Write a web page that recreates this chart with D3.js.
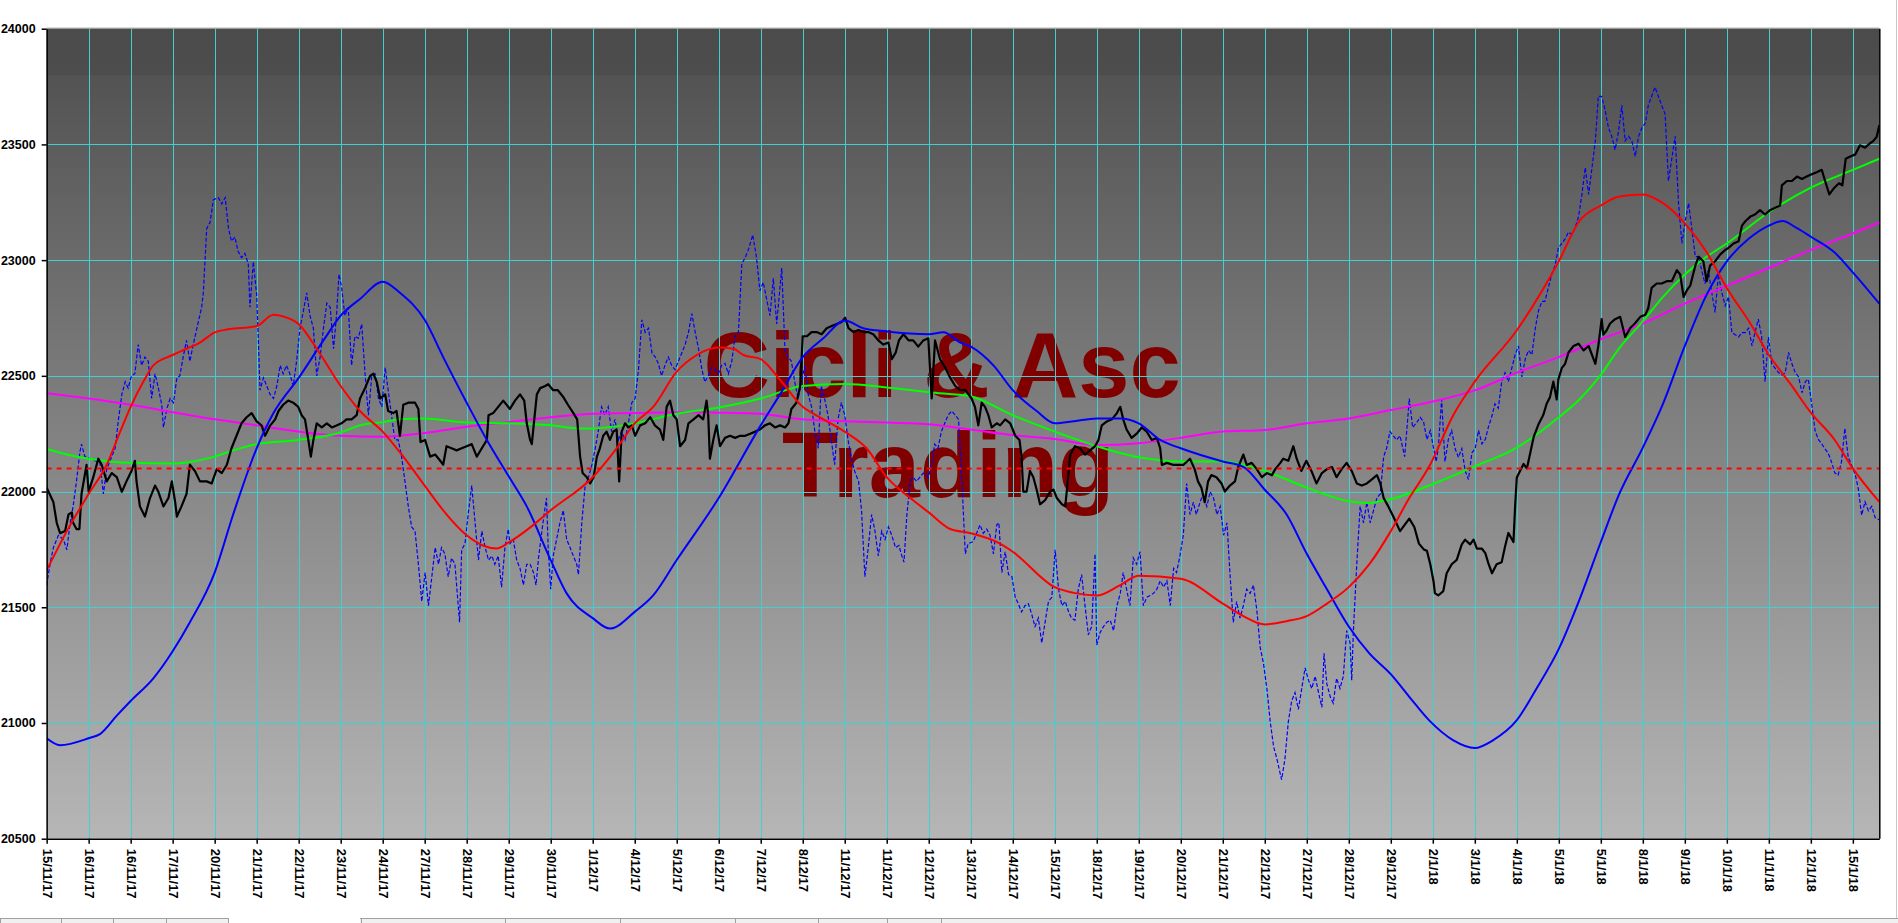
<!DOCTYPE html>
<html><head><meta charset="utf-8">
<script src="https://cdn.jsdelivr.net/npm/d3@7"></script>
<style>html,body{margin:0;padding:0;background:#fff;overflow:hidden}svg{display:block}</style>
</head><body>
<script>
// ---------- data ----------
const tickLabels = ["15/11/17","16/11/17","16/11/17","17/11/17","20/11/17","21/11/17","22/11/17","23/11/17","24/11/17","27/11/17","28/11/17",
"29/11/17","30/11/17","1/12/17","4/12/17","5/12/17","6/12/17","7/12/17","8/12/17","11/12/17","11/12/17","12/12/17","13/12/17",
"14/12/17","15/12/17","18/12/17","19/12/17","20/12/17","21/12/17","22/12/17","27/12/17","28/12/17","29/12/17","2/1/18",
"3/1/18","4/1/18","5/1/18","5/1/18","8/1/18","9/1/18","10/1/18","11/1/18","12/1/18","15/1/18"];
const yTicks = [20500,21000,21500,22000,22500,23000,23500,24000];
const levelLine = 22100;
const watermark = ["Cicli & Asc","Trading"];

// [session position, value]
const price = [[0.00,22017],[0.16,21955],[0.24,21865],[0.32,21820],[0.44,21830],[0.52,21901],[0.60,21910],[0.63,21865],[0.71,21838],[0.78,21838],[0.83,21990],[0.95,22115],[1.00,22000],[1.11,22062],[1.23,22142],[1.31,22116],[1.43,22044],[1.55,22080],[1.67,22062],[1.79,21999],[1.90,22044],[2.02,22089],[2.10,22133],[2.14,22044],[2.22,21936],[2.34,21892],[2.46,21972],[2.58,22026],[2.66,21999],[2.78,21936],[2.90,21972],[2.98,22044],[3.06,21954],[3.10,21892],[3.21,21936],[3.33,21990],[3.41,22116],[3.53,22089],[3.65,22044],[3.81,22044],[3.93,22035],[4.05,22097],[4.17,22080],[4.29,22116],[4.40,22187],[4.52,22241],[4.64,22295],[4.76,22321],[4.88,22339],[5.00,22303],[5.12,22285],[5.20,22241],[5.32,22285],[5.44,22312],[5.52,22348],[5.63,22375],[5.75,22393],[5.87,22384],[5.99,22366],[6.07,22330],[6.15,22312],[6.23,22223],[6.29,22151],[6.35,22223],[6.43,22295],[6.55,22277],[6.67,22295],[6.79,22277],[6.90,22285],[7.02,22295],[7.14,22312],[7.26,22312],[7.38,22330],[7.46,22402],[7.58,22447],[7.70,22500],[7.78,22509],[7.86,22473],[7.94,22402],[8.06,22420],[8.13,22348],[8.25,22339],[8.33,22348],[8.41,22241],[8.49,22375],[8.61,22384],[8.77,22384],[8.85,22357],[8.90,22214],[9.01,22223],[9.13,22151],[9.25,22160],[9.37,22133],[9.44,22116],[9.52,22196],[9.64,22187],[9.76,22178],[9.88,22187],[10.00,22196],[10.12,22205],[10.24,22151],[10.36,22187],[10.48,22223],[10.52,22330],[10.63,22339],[10.75,22366],[10.87,22393],
[11.03,22357],[11.15,22393],[11.27,22420],[11.37,22393],[11.43,22295],[11.51,22223],[11.55,22205],[11.59,22277],[11.67,22420],[11.75,22447],[11.87,22456],[11.94,22464],[12.06,22438],[12.17,22438],[12.29,22411],[12.41,22375],[12.54,22339],[12.63,22312],[12.70,22151],[12.76,22080],[12.86,22062],[12.94,22035],[13.02,22062],[13.10,22151],[13.17,22187],[13.25,22241],[13.33,22259],[13.41,22223],[13.49,22259],[13.57,22268],[13.63,22044],[13.69,22259],[13.77,22295],[13.85,22277],[13.93,22286],[14.01,22241],[14.13,22286],[14.25,22295],[14.37,22321],[14.48,22286],[14.60,22268],[14.68,22223],[14.76,22366],[14.84,22393],[14.92,22330],[15.00,22312],[15.08,22196],[15.20,22223],[15.28,22295],[15.40,22312],[15.52,22330],[15.63,22312],[15.71,22393],[15.75,22330],[15.79,22142],[15.87,22223],[15.95,22286],[16.03,22196],[16.15,22232],[16.27,22241],[16.39,22232],[16.51,22241],[16.63,22241],[16.75,22250],[16.87,22259],[16.98,22268],[17.10,22286],[17.22,22295],[17.34,22277],[17.46,22286],[17.58,22277],[17.66,22295],[17.73,22357],[17.85,22384],[17.94,22456],[18.00,22671],[18.10,22671],[18.21,22689],[18.33,22689],[18.45,22680],[18.57,22706],[18.69,22715],[18.81,22724],[18.93,22733],[19.01,22751],[19.09,22706],[19.21,22689],[19.33,22698],[19.44,22689],[19.56,22689],[19.68,22680],[19.80,22653],[19.92,22635],[20.04,22644],[20.12,22572],[20.21,22599],[20.29,22653],[20.40,22680],[20.52,22653],[20.63,22653],[20.75,22626],[20.87,22653],[20.99,22662],[21.07,22402],[21.15,22653],[21.27,22572],[21.39,22536],[21.51,22492],[21.63,22456],[21.75,22438],[21.87,22438],
[22.02,22402],[22.10,22366],[22.18,22286],[22.26,22384],[22.34,22366],[22.42,22330],[22.50,22277],[22.62,22295],[22.70,22286],[22.82,22312],[22.94,22295],[23.06,22241],[23.16,22223],[23.21,22151],[23.25,22000],[23.33,22000],[23.41,22089],[23.49,22062],[23.57,22008],[23.65,21945],[23.77,21963],[23.89,21999],[23.97,22008],[24.05,21972],[24.17,21945],[24.25,21936],[24.29,22008],[24.37,22160],[24.48,22196],[24.60,22187],[24.72,22160],[24.84,22178],[24.96,22196],[25.04,22223],[25.12,22286],[25.24,22303],[25.36,22312],[25.48,22339],[25.56,22366],[25.63,22312],[25.71,22268],[25.83,22232],[25.95,22250],[26.07,22277],[26.19,22259],[26.31,22223],[26.43,22232],[26.51,22187],[26.55,22115],[26.67,22124],[26.83,22115],[26.94,22115],[27.06,22115],[27.22,22142],[27.33,22097],[27.41,22044],[27.49,22017],[27.57,21954],[27.65,22044],[27.73,22071],[27.85,22062],[27.97,22035],[28.05,22000],[28.17,22026],[28.29,22044],[28.37,22107],[28.49,22160],[28.57,22115],[28.69,22124],[28.81,22097],[28.93,22062],[29.05,22080],[29.17,22071],[29.25,22097],[29.37,22124],[29.44,22142],[29.56,22133],[29.68,22196],[29.76,22142],[29.87,22089],[29.99,22133],[30.11,22089],[30.23,22035],[30.36,22080],[30.48,22097],[30.60,22106],[30.71,22062],[30.83,22097],[30.95,22124],[31.07,22089],[31.19,22035],[31.31,22026],[31.43,22035],[31.55,22053],[31.67,22071],[31.75,22035],[31.83,21972],[31.94,21936],[32.06,21892],[32.22,21829],[32.33,21856],[32.44,21883],[32.56,21847],[32.67,21775],[32.79,21749],
[32.86,21744],[32.94,21686],[33.02,21609],[33.05,21561],[33.13,21551],[33.25,21570],[33.33,21647],[33.45,21686],[33.57,21705],[33.69,21772],[33.77,21792],[33.89,21772],[33.97,21792],[34.05,21753],[34.17,21753],[34.25,21734],[34.33,21686],[34.41,21647],[34.52,21686],[34.64,21695],[34.72,21763],[34.80,21821],[34.92,21782],[34.96,21936],[35.00,22061],[35.08,22090],[35.16,22119],[35.24,22100],[35.32,22167],[35.40,22235],[35.52,22292],[35.63,22331],[35.71,22379],[35.79,22408],[35.87,22475],[35.95,22398],[35.99,22485],[36.07,22533],[36.15,22552],[36.23,22601],[36.35,22629],[36.47,22639],[36.59,22610],[36.71,22629],[36.79,22591],[36.87,22552],[36.94,22629],[37.02,22745],[37.06,22678],[37.14,22697],[37.22,22726],[37.34,22745],[37.46,22755],[37.58,22668],[37.70,22707],[37.81,22726],[37.94,22755],[38.06,22764],[38.13,22793],[38.21,22880],[38.33,22899],[38.45,22899],[38.57,22909],[38.69,22909],[38.81,22957],[38.89,22938],[38.97,22841],[39.05,22870],[39.13,22890],[39.25,22976],[39.33,23015],[39.44,22995],[39.52,22909],[39.60,22976],[39.72,22995],[39.84,23024],[39.96,23044],[40.04,23053],[40.16,23072],[40.28,23082],[40.36,23149],[40.44,23168],[40.56,23188],[40.67,23197],[40.79,23216],[40.91,23197],[41.03,23216],[41.15,23226],[41.27,23236],[41.31,23323],[41.43,23342],[41.55,23342],[41.67,23361],[41.79,23351],[41.90,23361],[42.02,23371],[42.14,23380],[42.26,23390],[42.34,23342],[42.44,23284],[42.56,23313],[42.67,23332],[42.75,23323],[42.83,23438],[42.94,23448],[43.06,23457],[43.17,23496],[43.29,23486],[43.41,23505],[43.49,23515],[43.57,23534],[43.63,23583]];

const oscillator = [[0.00,21596],[0.08,21686],[0.16,21758],[0.28,21811],[0.40,21793],[0.48,21748],[0.56,21865],[0.63,21936],[0.71,22044],[0.79,22169],[0.83,22205],[0.91,22151],[1.03,22142],[1.15,22133],[1.27,22124],[1.35,21990],[1.43,22097],[1.51,22133],[1.63,22187],[1.71,22312],[1.79,22420],[1.87,22474],[1.94,22447],[2.02,22500],[2.10,22509],[2.18,22635],[2.26,22545],[2.34,22581],[2.42,22563],[2.50,22402],[2.58,22509],[2.66,22447],[2.74,22375],[2.78,22277],[2.86,22357],[2.94,22402],[3.02,22384],[3.10,22491],[3.17,22500],[3.25,22581],[3.33,22653],[3.41,22563],[3.49,22635],[3.61,22733],[3.69,22796],[3.73,22859],[3.81,23136],[3.89,23163],[3.97,23261],[4.09,23270],[4.17,23243],[4.25,23270],[4.33,23136],[4.40,23082],[4.48,23100],[4.56,23037],[4.64,23011],[4.72,23029],[4.80,22984],[4.84,22796],[4.92,22993],[5.00,22850],[5.04,22653],[5.08,22438],[5.16,22491],[5.24,22456],[5.32,22420],[5.40,22402],[5.48,22456],[5.56,22545],[5.63,22509],[5.71,22545],[5.79,22509],[5.87,22456],[5.95,22563],[6.03,22706],[6.11,22778],[6.19,22859],[6.27,22760],[6.35,22706],[6.43,22500],[6.51,22581],[6.59,22706],[6.67,22814],[6.75,22796],[6.83,22617],[6.90,22760],[6.96,22939],[7.02,22885],[7.10,22760],[7.18,22796],[7.26,22545],[7.34,22671],[7.42,22662],[7.50,22724],[7.58,22509],[7.66,22330],[7.74,22500],[7.82,22509],[7.90,22402],[7.98,22366],[8.06,22536],[8.13,22438],[8.21,22330],[8.29,22223],[8.37,22223],[8.45,22151],[8.53,22044],[8.61,21936],[8.69,21847],[8.77,21829],[8.85,21686],[8.93,21525],[9.01,21650],[9.09,21507],[9.17,21632],[9.25,21758],[9.33,21686],[9.40,21758],[9.48,21731],[9.56,21632],[9.64,21713],[9.72,21686],[9.83,21435],[9.88,21748],[9.96,21775],[10.04,21910],[10.12,22026],[10.20,21865],[10.28,21704],[10.36,21829],[10.44,21758],[10.52,21704],[10.60,21722],[10.67,21686],[10.75,21722],[10.83,21587],[10.91,21758],[10.99,21838],
[11.03,21775],[11.11,21793],[11.19,21704],[11.27,21668],[11.35,21596],[11.43,21686],[11.51,21686],[11.59,21650],[11.65,21596],[11.71,21713],[11.79,21829],[11.87,21936],[11.90,21972],[11.94,21758],[12.00,21578],[12.06,21722],[12.14,21793],[12.22,21865],[12.30,21919],[12.38,21793],[12.46,21758],[12.54,21722],[12.62,21686],[12.66,21641],[12.74,21865],[12.82,22026],[12.90,22062],[12.98,22115],[13.06,22187],[13.13,22259],[13.21,22366],[13.29,22330],[13.37,22366],[13.45,22259],[13.53,22312],[13.61,22223],[13.69,22259],[13.77,22223],[13.85,22295],[13.93,22384],[14.01,22402],[14.09,22527],[14.17,22742],[14.25,22688],[14.33,22706],[14.41,22599],[14.49,22581],[14.56,22554],[14.64,22500],[14.72,22545],[14.80,22581],[14.88,22545],[14.96,22527],[15.04,22563],[15.12,22599],[15.20,22635],[15.28,22688],[15.36,22769],[15.44,22688],[15.52,22617],[15.60,22527],[15.67,22474],[15.75,22500],[15.83,22536],[15.91,22527],[15.99,22509],[16.07,22545],[16.15,22554],[16.23,22509],[16.31,22563],[16.39,22671],[16.47,22688],[16.55,22984],[16.63,23011],[16.71,23047],[16.81,23109],[16.90,23011],[16.98,22868],[17.06,22904],[17.14,22832],[17.22,22760],[17.30,22921],[17.38,22724],[17.50,22966],[17.58,22599],[17.66,22581],[17.73,22563],[17.81,22474],[17.89,22402],[17.97,22474],[18.05,22545],[18.13,22420],[18.21,22366],[18.29,22259],[18.37,22187],[18.44,22456],[18.52,22402],[18.60,22330],[18.68,22223],[18.76,22116],[18.84,22312],[18.92,22384],[19.00,22330],[19.08,22223],[19.17,22133],[19.25,22080],[19.33,22044],[19.40,21919],[19.48,21632],[19.56,21758],[19.64,21901],[19.72,21829],[19.80,21722],[19.88,21829],[19.96,21793],[20.04,21847],[20.12,21811],[20.21,21758],[20.29,21767],[20.36,21722],[20.41,21695],[20.48,21901],[20.56,22044],[20.63,22062],[20.71,22044],[20.79,22062],[20.87,22080],[20.99,22062],[21.07,22115],[21.14,22205],[21.22,22187],[21.30,22259],[21.38,22295],[21.46,22330],[21.55,22348],[21.63,22330],[21.71,22312],[21.79,22044],[21.87,21731],[21.94,21775],
[22.06,21784],[22.14,21820],[22.22,21856],[22.30,21820],[22.38,21838],[22.46,21811],[22.54,21731],[22.62,21856],[22.67,21865],[22.74,21650],[22.82,21740],[22.90,21641],[22.98,21632],[23.06,21543],[23.13,21516],[23.21,21480],[23.29,21507],[23.37,21516],[23.45,21471],[23.53,21417],[23.61,21453],[23.69,21346],[23.77,21435],[23.85,21525],[23.93,21543],[24.01,21748],[24.09,21578],[24.17,21507],[24.25,21525],[24.33,21480],[24.40,21453],[24.48,21444],[24.56,21578],[24.64,21641],[24.72,21507],[24.80,21381],[24.88,21417],[24.96,21731],[25.00,21337],[25.08,21391],[25.16,21417],[25.24,21435],[25.32,21444],[25.40,21399],[25.48,21507],[25.56,21560],[25.63,21650],[25.71,21578],[25.79,21507],[25.87,21713],[25.95,21686],[26.03,21740],[26.11,21507],[26.19,21543],[26.27,21551],[26.35,21560],[26.43,21578],[26.51,21614],[26.59,21587],[26.67,21614],[26.75,21507],[26.83,21668],[26.90,21650],[26.98,21722],[27.06,21811],[27.14,22035],[27.22,21901],[27.30,21954],[27.37,21901],[27.46,21954],[27.53,21990],[27.62,21936],[27.70,21999],[27.78,21972],[27.86,21901],[27.94,21936],[28.02,21811],[28.10,21865],[28.17,21650],[28.25,21435],[28.33,21525],[28.41,21453],[28.49,21507],[28.57,21578],[28.65,21560],[28.73,21596],[28.81,21489],[28.89,21328],[28.97,21256],[29.05,21149],[29.13,21005],[29.21,20898],[29.29,20844],[29.40,20755],[29.48,20844],[29.56,21005],[29.64,21095],[29.72,21131],[29.80,21059],[29.88,21149],[29.96,21238],[30.04,21185],[30.12,21149],[30.20,21202],[30.28,21131],[30.36,21068],[30.41,21301],[30.48,21167],[30.56,21113],[30.63,21086],[30.71,21193],[30.79,21149],[30.87,21202],[30.95,21399],[31.03,21346],[31.07,21185],[31.11,21399],[31.19,21686],[31.27,21936],[31.35,21865],[31.43,21954],[31.51,21865],[31.59,21919],[31.67,21972],[31.75,21990],[31.83,22151],[31.90,22187],[31.98,22259],[32.06,22241],[32.14,22223],[32.22,22241],[32.33,22151],[32.41,22330],[32.44,22402],[32.52,22277],[32.64,22304],
[32.70,22321],[32.78,22302],[32.86,22225],[32.94,22264],[33.02,22186],[33.08,22129],[33.13,22186],[33.21,22398],[33.29,22129],[33.37,22225],[33.45,22264],[33.53,22186],[33.61,22148],[33.69,22186],[33.77,22090],[33.85,22052],[33.93,22167],[34.01,22186],[34.09,22264],[34.17,22206],[34.25,22225],[34.33,22283],[34.40,22321],[34.48,22379],[34.56,22360],[34.64,22475],[34.72,22514],[34.80,22475],[34.88,22533],[34.96,22591],[35.04,22629],[35.12,22495],[35.20,22572],[35.28,22610],[35.36,22591],[35.44,22706],[35.52,22784],[35.60,22822],[35.67,22822],[35.75,22880],[35.83,22938],[35.91,22976],[35.99,23053],[36.07,23072],[36.15,23092],[36.23,23121],[36.31,23111],[36.39,23140],[36.47,23188],[36.55,23284],[36.63,23400],[36.71,23284],[36.79,23400],[36.87,23515],[36.94,23708],[37.02,23708],[37.10,23650],[37.18,23573],[37.26,23535],[37.34,23477],[37.42,23554],[37.50,23669],[37.58,23515],[37.66,23535],[37.74,23515],[37.82,23448],[37.90,23535],[37.98,23573],[38.06,23592],[38.13,23669],[38.21,23708],[38.29,23747],[38.37,23708],[38.45,23669],[38.53,23631],[38.61,23342],[38.69,23438],[38.77,23535],[38.85,23246],[38.93,23072],[39.01,23169],[39.09,23246],[39.17,23130],[39.25,23015],[39.33,23015],[39.40,22957],[39.48,22899],[39.56,22957],[39.64,22861],[39.72,22774],[39.80,22938],[39.88,22861],[39.96,22803],[40.04,22841],[40.12,22687],[40.20,22678],[40.28,22668],[40.36,22687],[40.44,22687],[40.52,22706],[40.60,22629],[40.67,22687],[40.75,22745],[40.83,22668],[40.91,22475],[40.99,22668],[41.07,22552],[41.15,22533],[41.23,22514],[41.31,22504],[41.39,22514],[41.47,22601],[41.55,22552],[41.63,22514],[41.71,22495],[41.79,22427],[41.87,22475],[41.94,22485],[42.02,22379],[42.10,22264],[42.18,22225],[42.26,22206],[42.33,22186],[42.41,22167],[42.49,22129],[42.57,22081],[42.65,22071],[42.73,22129],[42.81,22273],[42.89,22148],[42.98,22110],[43.06,22071],[43.13,22013],[43.21,21898],[43.29,21956],[43.37,21917],[43.45,21936],[43.53,21888],[43.63,21878]];

const cycleRed = [[0,21659],[0.48,21829],[1,21990],[1.43,22116],[1.75,22259],[2,22366],[2.30,22474],[2.54,22545],[3,22590],[3.33,22617],[3.65,22644],[4,22688],[4.29,22700],[5,22715],[5.40,22764],[5.63,22757],[6,22724],[6.43,22617],[7,22456],[7.46,22348],[8,22259],[8.49,22151],[9,22026],[9.44,21919],[10,21811],[10.40,21766],[10.71,21754],[11,21780],[11.59,21856],[12,21919],[13,22062],[13.57,22187],[14,22295],[14.44,22366],[15,22518],[15.48,22590],[16,22622],[16.35,22617],[16.59,22590],[17,22572],[17.46,22483],[18,22366],[18.41,22321],[19,22259],[19.52,22187],[20,22062],[20.56,21972],[21,21910],[21.51,21838],[22,21820],[22.70,21775],[23,21740],[24,21587],[24.52,21560],[25,21551],[25.56,21596],[26,21636],[27,21623],[28,21516],[28.49,21462],[29,21426],[29.52,21440],[30,21462],[30.48,21516],[31,21587],[31.49,21686],[32,21829],[32.44,21972],[32.92,22110],[33.49,22331],[34,22475],[35,22697],[36,22995],[36.49,23169],[37,23236],[37.44,23275],[38,23284],[38.48,23246],[39,23159],[39.52,23034],[40,22880],[40.56,22726],[41,22591],[41.51,22466],[42,22341],[42.56,22225],[43,22100],[43.63,21955]];

const cycleBlue = [[0,20934],[0.32,20904],[1,20934],[1.27,20952],[1.67,21032],[2,21095],[2.54,21193],[3,21310],[3.41,21435],[4,21650],[4.44,21901],[5,22187],[5.40,22339],[6,22491],[6.59,22653],[7,22760],[7.46,22832],[8,22907],[8.41,22859],[9,22742],[9.44,22581],[10,22384],[10.48,22223],[11,22066],[11.43,21936],[12,21704],[12.38,21560],[13,21453],[13.41,21408],[14,21480],[14.44,21551],[15,21704],[16,21972],[17,22286],[17.46,22420],[18,22581],[18.49,22662],[19,22739],[19.44,22706],[20,22692],[21,22680],[21.35,22688],[21.75,22644],[22,22626],[22.54,22545],[23,22438],[23.57,22348],[24,22295],[24.46,22304],[25,22316],[25.56,22316],[26,22295],[26.51,22223],[27,22187],[28,22130],[28.49,22107],[29,22008],[29.52,21901],[30,21731],[30.48,21578],[31,21417],[31.49,21301],[32,21211],[32.44,21113],[32.92,21010],[33.49,20925],[34,20892],[34.43,20925],[35,21012],[35.46,21146],[36,21320],[36.49,21532],[37,21782],[37.44,21990],[38,22190],[38.48,22379],[39,22629],[39.52,22851],[40,22995],[40.52,23092],[41,23149],[41.33,23169],[41.65,23140],[42,23101],[42.56,23034],[43,22947],[43.63,22812]];

const avgGreen = [[0,22184],[0.48,22160],[1,22142],[2,22124],[3,22121],[3.49,22130],[4,22151],[4.44,22178],[5,22205],[6,22223],[7,22255],[7.46,22286],[8,22300],[8.41,22312],[9,22316],[10,22298],[11,22295],[12,22286],[12.70,22273],[13,22273],[14,22295],[15,22336],[16,22363],[17,22402],[18,22456],[19,22465],[20,22450],[21,22429],[22,22411],[23,22330],[24,22259],[25,22196],[26,22148],[27,22130],[28,22130],[29,22089],[30,22017],[31,21958],[31.43,21951],[32,21967],[32.92,22026],[34,22109],[35,22190],[36,22321],[36.49,22398],[37,22504],[37.44,22620],[38,22735],[38.48,22841],[39,22938],[39.52,23015],[40,23072],[41,23207],[42,23313],[43,23390],[43.63,23438]];

const avgMagenta = [[0,22425],[1,22402],[2,22375],[3,22343],[4,22312],[5,22286],[6,22259],[7,22241],[8,22237],[9,22253],[10,22280],[11,22300],[12,22321],[13,22336],[14,22339],[15,22343],[16,22341],[17,22336],[18,22312],[19,22304],[20,22298],[21,22291],[22,22268],[23,22244],[24,22227],[25,22201],[26,22209],[27,22232],[28,22259],[29,22266],[30,22295],[31,22316],[32,22352],[33,22389],[34,22437],[35,22514],[36,22581],[37,22658],[38,22726],[39,22812],[40,22889],[41,22966],[42,23044],[43,23115],[43.63,23163]];

// ---------- chart ----------
const W = 1898, H = 923;
const L = 46.65, R = 1879.3, T = 28.7, B = 838.7;
const svg = d3.select("body").append("svg").attr("width", W).attr("height", H);
const x = d3.scaleLinear().domain([0, 43.63]).range([L, R]);
const y = d3.scaleLinear().domain([20500, 24000]).range([B, T]);
const font = "'Liberation Sans', Arial, sans-serif";

const defs = svg.append("defs");
const grad = defs.append("linearGradient").attr("id", "bg")
  .attr("gradientUnits", "userSpaceOnUse").attr("x1", 0).attr("x2", 0).attr("y1", T).attr("y2", B);
[[0, "#4b4b4b"], [0.057, "#4d4d4d"], [0.058, "#535353"], [1, "#b6b6b6"]].forEach(s =>
  grad.append("stop").attr("offset", s[0]).attr("stop-color", s[1]));
defs.append("clipPath").attr("id", "clip").append("rect")
  .attr("x", L).attr("y", T).attr("width", R - L).attr("height", B - T);

svg.append("rect").attr("x", L).attr("y", T).attr("width", R - L).attr("height", B - T).attr("fill", "url(#bg)");

// watermark
const wm = svg.append("g").attr("font-family", font).attr("font-weight", "bold")
  .attr("font-size", 92).attr("fill", "#800000").attr("text-anchor", "middle");
wm.append("text").attr("x", 942).attr("y", 397).text(watermark[0]);
wm.append("text").attr("x", 948).attr("y", 497).text(watermark[1]);

// grid
const grid = svg.append("g").attr("stroke", "#40d0d0").attr("stroke-width", 1).attr("shape-rendering", "crispEdges");
grid.selectAll("line.v").data(d3.range(1, tickLabels.length)).join("line")
  .attr("x1", d => Math.round(x(d)) + 0.5).attr("x2", d => Math.round(x(d)) + 0.5)
  .attr("y1", T).attr("y2", B);
grid.selectAll("line.h").data(yTicks.filter(v => v > 20500 && v < 24000)).join("line")
  .attr("y1", d => Math.round(y(d)) + 0.5).attr("y2", d => Math.round(y(d)) + 0.5)
  .attr("x1", L).attr("x2", R);

// series
const lineLinear = d3.line().x(d => x(d[0])).y(d => y(d[1]));
const lineSmooth = d3.line().x(d => x(d[0])).y(d => y(d[1])).curve(d3.curveMonotoneX);
const plot = svg.append("g").attr("clip-path", "url(#clip)").attr("fill", "none");
plot.append("path").datum(oscillator).attr("d", lineLinear).attr("stroke", "#0000ff").attr("stroke-width", 1.2).attr("stroke-dasharray", "4 2");
plot.append("path").datum(avgMagenta).attr("d", lineSmooth).attr("stroke", "#ff00ff").attr("stroke-width", 2);
plot.append("path").datum(avgGreen).attr("d", lineSmooth).attr("stroke", "#00ff00").attr("stroke-width", 2);
plot.append("path").datum(price).attr("d", lineLinear).attr("stroke", "#000000").attr("stroke-width", 2.2).attr("stroke-linejoin", "round");
plot.append("path").datum(cycleBlue).attr("d", lineSmooth).attr("stroke", "#0000ff").attr("stroke-width", 2);
plot.append("path").datum(cycleRed).attr("d", lineSmooth).attr("stroke", "#ff0000").attr("stroke-width", 2);
plot.append("line").attr("x1", L).attr("x2", R).attr("y1", y(levelLine)).attr("y2", y(levelLine))
  .attr("stroke", "#ff0000").attr("stroke-width", 2).attr("stroke-dasharray", "5 5");

// frame
svg.append("line").attr("x1", L).attr("x2", R).attr("y1", T - 0.5).attr("y2", T - 0.5).attr("stroke", "#888").attr("stroke-width", 1);
svg.append("line").attr("x1", R + 0.5).attr("x2", R + 0.5).attr("y1", T).attr("y2", B).attr("stroke", "#000").attr("stroke-width", 1.5);

// axes
const yAxis = svg.append("g").attr("transform", `translate(${L},0)`)
  .call(d3.axisLeft(y).tickValues(yTicks).tickFormat(d3.format("d")).tickSize(5).tickSizeOuter(0).tickPadding(6));
yAxis.selectAll("text").attr("font-family", font).attr("font-size", 12.5).attr("font-weight", "bold").attr("fill", "#000");
yAxis.selectAll("line,path").attr("stroke", "#000").attr("stroke-width", 1.5);

const xAxis = svg.append("g").attr("transform", `translate(0,${B})`)
  .call(d3.axisBottom(x).tickValues(d3.range(tickLabels.length)).tickFormat(i => tickLabels[i]).tickSize(5).tickSizeOuter(0));
xAxis.selectAll("line,path").attr("stroke", "#000").attr("stroke-width", 1.5);
xAxis.selectAll("text").attr("font-family", font).attr("font-size", 13).attr("font-weight", "bold").attr("fill", "#000")
  .attr("transform", "rotate(90)").attr("x", 10).attr("y", 0).attr("dy", "0.35em").attr("text-anchor", "start");

// window chrome: right edge + bottom tabs
svg.append("line").attr("x1", 1896.5).attr("x2", 1896.5).attr("y1", 0).attr("y2", 918).attr("stroke", "#c8c8c8");
svg.append("rect").attr("x", 0).attr("y", 918).attr("width", W).attr("height", 5).attr("fill", "#f0f0f0");
const tabEdges = [0, 61, 113, 166, 228, 361, 505, 620, 735, 818, 887, 941];
svg.append("line").attr("x1", 0).attr("x2", W).attr("y1", 918.5).attr("y2", 918.5).attr("stroke", "#a0a0a0");
svg.append("g").attr("stroke", "#a0a0a0").selectAll("line").data(tabEdges).join("line")
  .attr("x1", d => d + 0.5).attr("x2", d => d + 0.5).attr("y1", 918).attr("y2", 923);
svg.append("rect").attr("x", 229).attr("y", 917).attr("width", 131).attr("height", 6).attr("fill", "#fff");
</script>
</body></html>
